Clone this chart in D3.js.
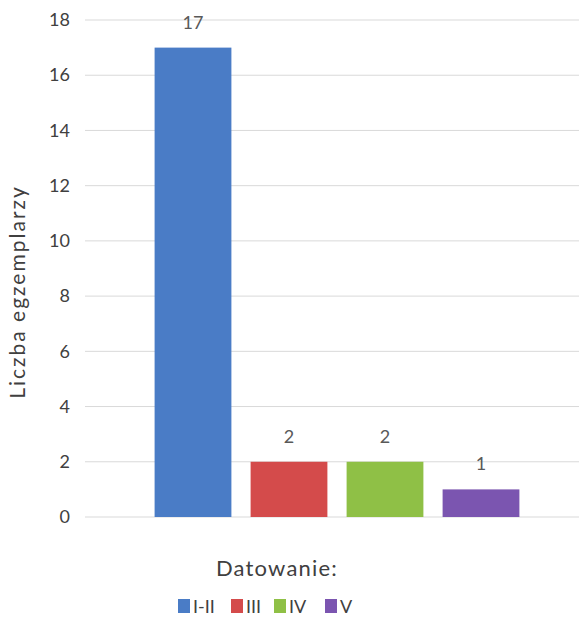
<!DOCTYPE html>
<html>
<head>
<meta charset="utf-8">
<script src="https://cdn.jsdelivr.net/npm/d3@7"></script>
<style>
  body { margin: 0; background: #fff; }
  text { font-family: Lato, "Open Sans", sans-serif; }
</style>
</head>
<body>
<div id="vis-container"></div>
<script>
// chart values
const categories = ["I-II", "III", "IV", "V"];
const counts = [17, 2, 2, 1];
const colors = ["#4a7cc6", "#d44b4b", "#8fc046", "#7b55b0"];
const yTicks = [0, 2, 4, 6, 8, 10, 12, 14, 16, 18];

const w = 579, h = 619;

const svg = d3.select("#vis-container")
    .append("svg")
    .attr("width", w)
    .attr("height", h);

// scales
const yScale = d3.scaleLinear().domain([0, 18]).range([517, 20]);
const xScale = d3.scaleBand()
    .domain(categories)
    .range([145, 529])
    .paddingInner(0.2)
    .paddingOuter(0.1);

// gridlines
svg.append("g")
    .selectAll("line")
    .data(yTicks)
    .enter().append("line")
    .attr("x1", 85)
    .attr("x2", w)
    .attr("y1", d => yScale(d))
    .attr("y2", d => yScale(d))
    .attr("stroke", "#d9d9d9")
    .attr("stroke-width", 1);

// y axis labels
const yAxis = d3.axisLeft(yScale).tickValues(yTicks).tickSize(0).tickPadding(0);
const yg = svg.append("g")
    .attr("transform", "translate(70,0)")
    .call(yAxis);
yg.select(".domain").remove();
yg.selectAll("text")
    .attr("font-family", "Lato, 'Open Sans', sans-serif")
    .attr("font-size", 18)
    .attr("fill", "#404040");

// axis title
svg.append("text")
    .attr("transform", "translate(25,292) rotate(-90)")
    .attr("text-anchor", "middle")
    .attr("font-size", 21)
    .attr("fill", "#404040")
    .attr("letter-spacing", 2)
    .text("Liczba egzemplarzy");

// bars
svg.selectAll(".bar")
    .data(counts)
    .enter().append("rect")
    .attr("class", "bar")
    .attr("x", (d, i) => xScale(categories[i]))
    .attr("width", xScale.bandwidth())
    .attr("y", d => yScale(d))
    .attr("height", d => yScale(0) - yScale(d))
    .attr("fill", (d, i) => colors[i]);

// data labels
svg.selectAll(".lbl")
    .data(counts)
    .enter().append("text")
    .attr("class", "lbl")
    .attr("x", (d, i) => xScale(categories[i]) + xScale.bandwidth() / 2)
    .attr("y", d => yScale(d) - 19)
    .attr("text-anchor", "middle")
    .attr("font-size", 18)
    .attr("fill", "#595959")
    .text(d => d);

// legend title
svg.append("text")
    .attr("x", 277)
    .attr("y", 576)
    .attr("text-anchor", "middle")
    .attr("font-size", 22)
    .attr("fill", "#404040")
    .attr("letter-spacing", 1.2)
    .text("Datowanie:");

// legend
const legX = [178, 231, 274, 325];
const legend = svg.selectAll(".legend")
    .data(categories)
    .enter().append("g")
    .attr("class", "legend")
    .attr("transform", (d, i) => "translate(" + legX[i] + ",599)");

legend.append("rect")
    .attr("width", 12)
    .attr("height", 14)
    .attr("fill", (d, i) => colors[i]);

legend.append("text")
    .attr("x", 15)
    .attr("y", 14)
    .attr("font-size", 18)
    .attr("fill", "#404040")
    .text(d => d);
</script>
</body>
</html>
